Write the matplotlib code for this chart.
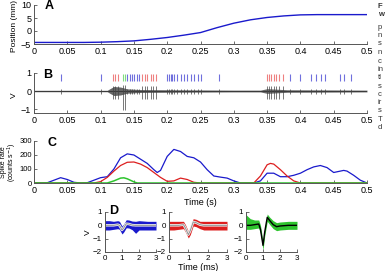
import numpy as np
import matplotlib
matplotlib.use("Agg")
import matplotlib.pyplot as plt

plt.rcParams['font.family'] = ['Liberation Sans', 'DejaVu Sans']
plt.rcParams['font.size'] = 6.5

# panel A: position
pos_t = [0, 0.025, 0.05, 0.075, 0.1, 0.125, 0.15, 0.175, 0.2, 0.225, 0.25,
         0.275, 0.3, 0.325, 0.35, 0.375, 0.4, 0.425, 0.45, 0.475, 0.5]
pos_mm = [-4.4, -4.4, -4.4, -4.4, -4.3, -4.1, -3.8, -3.2, -2.5, -1.6, -0.6,
          1.3, 3.0, 4.3, 5.2, 5.8, 6.2, 6.3, 6.3, 6.3, 6.3]

# panel B: spike times per unit
blue_spikes = [0.041, 0.101, 0.140, 0.144, 0.1475, 0.150, 0.154, 0.1575,
               0.200, 0.2025, 0.205, 0.2075, 0.210, 0.215, 0.220, 0.225,
               0.230, 0.235, 0.240, 0.246, 0.250, 0.2775, 0.385, 0.400,
               0.416, 0.424, 0.4315, 0.4375, 0.459, 0.465, 0.476]
red_spikes = [0.119, 0.1215, 0.126, 0.1625, 0.166, 0.170, 0.175, 0.179, 0.183,
              0.350, 0.3525, 0.356, 0.360, 0.364, 0.3675, 0.374]
green_spikes = [0.133, 0.136]

# background noise envelope of the voltage trace
noise_t = [0, 0.11, 0.115, 0.12, 0.13, 0.14, 0.16, 0.2, 0.25, 0.3, 0.34,
           0.35, 0.365, 0.38, 0.45, 0.5]
noise_amp = [0.04, 0.04, 0.15, 0.25, 0.22, 0.12, 0.08, 0.07, 0.06, 0.05, 0.05,
             0.13, 0.1, 0.07, 0.06, 0.05]

# panel C: spike rates
blue_rate_t = [0, 0.02, 0.03, 0.04, 0.05, 0.06, 0.07, 0.08, 0.09, 0.1, 0.11,
               0.12, 0.13, 0.14, 0.15, 0.16, 0.17, 0.18, 0.185, 0.19, 0.2,
               0.21, 0.22, 0.23, 0.24, 0.25, 0.26, 0.27, 0.28, 0.29, 0.3,
               0.31, 0.33, 0.34, 0.35, 0.36, 0.37, 0.38, 0.39, 0.4, 0.41,
               0.42, 0.43, 0.44, 0.45, 0.46, 0.465, 0.47, 0.48, 0.49, 0.5]
blue_rate = [0, 2, 20, 38, 25, 5, 0, 2, 20, 38, 45,
             100, 180, 208, 200, 170, 140, 95, 75, 90, 190,
             240, 225, 190, 180, 150, 95, 50, 42, 35, 15,
             0, 0, 15, 70, 70, 45, 45, 55, 70, 95,
             115, 125, 110, 75, 85, 90, 85, 55, 20, 0]
red_rate_t = [0, 0.09, 0.1, 0.11, 0.12, 0.13, 0.14, 0.15, 0.16, 0.17, 0.18,
              0.19, 0.2, 0.21, 0.22, 0.23, 0.24, 0.25, 0.33, 0.34, 0.35,
              0.355, 0.36, 0.37, 0.38, 0.39, 0.4, 0.5]
red_rate = [0, 0, 10, 40, 85, 125, 148, 150, 135, 110, 75,
            40, 12, 15, 35, 25, 5, 0, 0, 50, 130,
            140, 135, 95, 50, 15, 0, 0]
green_rate_t = [0, 0.11, 0.12, 0.13, 0.135, 0.14, 0.15, 0.155, 0.5]
green_rate = [0, 0, 15, 35, 37, 30, 8, 0, 0]

# panel D: waveforms (mean and spread)
wf_t = [0, 0.25, 0.5, 0.75, 0.85, 1.0, 1.1, 1.25, 1.4, 1.6, 1.8, 2.0, 2.5, 3.0]
blue_mean = [0, 0, 0, 0.05, 0, -0.35, -0.2, 0.12, 0.1, 0.02, 0, 0, 0, 0]
blue_up = [0.35, 0.35, 0.3, 0.3, 0.3, 0.3, 0.3, 0.3, 0.3, 0.3, 0.3, 0.35, 0.3, 0.3]
blue_down = [0.35, 0.35, 0.3, 0.3, 0.3, 0.3, 0.3, 0.3, 0.3, 0.35, 0.6, 0.35, 0.35, 0.35]
red_mean = [0, 0, 0, 0.05, -0.2, -0.7, -0.4, 0.25, 0.2, 0.05, 0, 0, 0, 0]
red_up = [0.3, 0.3, 0.3, 0.25, 0.25, 0.25, 0.25, 0.25, 0.25, 0.25, 0.3, 0.3, 0.3, 0.3]
red_down = [0.35, 0.35, 0.3, 0.3, 0.3, 0.25, 0.3, 0.3, 0.3, 0.3, 0.35, 0.35, 0.35, 0.35]
green_mean = [0, 0, 0.05, 0.1, -0.3, -1.5, -0.5, 0.6, 0.35, 0.05, -0.1, -0.05, 0, 0]
green_up = [0.8, 0.5, 0.35, 0.3, 0.3, 0.3, 0.3, 0.25, 0.25, 0.3, 0.3, 0.3, 0.3, 0.3]
green_down = [0.3, 0.3, 0.3, 0.3, 0.3, 0.35, 0.3, 0.3, 0.3, 0.3, 0.3, 0.3, 0.3, 0.3]

# size of each unit's deflection in the raw trace
unit_amp = {'blue': (-0.18, 0.1), 'red': (-0.42, 0.3), 'green': (-1.05, 0.35)}

C_BLUE, C_RED, C_GREEN = '#1a1acc', '#dd1f1f', '#2ec42e'
R_BLUE, R_RED, R_GREEN = '#7070dd', '#ee8080', '#80dd80'

W, H = 389, 271


def box(l, t, r, b):
    return [l / W, 1 - b / H, (r - l) / W, (b - t) / H]


def style(ax, size=6.5):
    for s in ['top', 'right']:
        ax.spines[s].set_visible(False)
    for s in ['left', 'bottom']:
        ax.spines[s].set_color('#555555')
        ax.spines[s].set_linewidth(0.7)
    ax.tick_params(direction='in', length=2.5, width=0.6, color='#555555',
                   labelsize=size, pad=2)


def ylab(x, y, txt, size=6):
    fig.text(x / W, 1 - y / H, txt, rotation=90, ha='center', va='center',
             fontsize=size, linespacing=0.95, multialignment='center')


fig = plt.figure(figsize=(W / 100, H / 100), dpi=100)
xt = np.arange(0, 0.51, 0.05)
xtl = ['0'] + ['%g' % v for v in xt[1:]]

# A
ax = fig.add_axes(box(34, 5, 367, 44))
style(ax)
ax.plot(pos_t, pos_mm, color=C_BLUE, lw=1)
ax.set_xlim(0, 0.5)
ax.set_ylim(-5, 10)
ax.set_yticks([-5, 0, 5, 10])
ax.set_xticks(xt)
ax.set_xticklabels(xtl)
ylab(14, 26, 'Position (mm)')
fig.text(45 / W, 1 - 9 / H, 'A', fontsize=9, fontweight='bold')

# B
ax = fig.add_axes(box(34, 73, 367, 113))
style(ax)
ax.fill_between(noise_t, [-a for a in noise_amp], noise_amp,
                color='#666666', lw=0)
ax.axhline(0, color='#333333', lw=0.6)
for name, spikes in [('blue', blue_spikes), ('red', red_spikes),
                     ('green', green_spikes)]:
    lo, hi = unit_amp[name]
    ax.vlines(spikes, lo, hi, color='#444444', lw=0.5)
ax.vlines(blue_spikes, 0.55, 0.95, color=R_BLUE, lw=0.8)
ax.vlines(red_spikes, 0.55, 0.95, color=R_RED, lw=0.8)
ax.vlines(green_spikes, 0.55, 0.95, color=R_GREEN, lw=0.8)
ax.set_xlim(0, 0.5)
ax.set_ylim(-1.22, 1.0)
ax.set_yticks([-1, 0, 1])
ax.set_xticks(xt)
ax.set_xticklabels(xtl)
ylab(14, 95, 'V')
fig.text(43 / W, 1 - 78 / H, 'B', fontsize=9, fontweight='bold')

# C
ax = fig.add_axes(box(34, 141, 367, 183))
style(ax)
ax.plot(blue_rate_t, blue_rate, color=C_BLUE, lw=0.9)
ax.plot(red_rate_t, red_rate, color=C_RED, lw=0.9)
ax.plot(green_rate_t, green_rate, color=C_GREEN, lw=1.1)
ax.set_xlim(0, 0.5)
ax.set_ylim(0, 300)
ax.set_yticks([0, 100, 200, 300])
ax.tick_params(axis='y', labelsize=5.5, pad=1.2)
ax.set_xticks(xt)
ax.set_xticklabels(xtl)
ax.set_xlabel('Time (s)', labelpad=2)
ylab(9.5, 162, 'Spike rate\n(counts s$^{-1}$)', size=5.0)
fig.text(48 / W, 1 - 146 / H, 'C', fontsize=9, fontweight='bold')

# D
units = [(box(105, 212, 156, 252), blue_mean, blue_up, blue_down, C_BLUE, 'light'),
         (box(169, 212, 227, 252), red_mean, red_up, red_down, C_RED, 'light'),
         (box(246, 212, 297, 252), green_mean, green_up, green_down, C_GREEN, 'dark')]
for i, (pos, mean, up, down, col, mstyle) in enumerate(units):
    ax = fig.add_axes(pos)
    style(ax, size=5.8)
    upper = [m + u for m, u in zip(mean, up)]
    lower = [m - d for m, d in zip(mean, down)]
    ax.fill_between(wf_t, lower, upper, color=col, lw=0)
    if mstyle == 'light':
        ax.plot(wf_t, mean, color='#eeeeee', lw=1.8)
        ax.plot(wf_t, mean, color='#888888', lw=0.6)
    else:
        ax.plot(wf_t, mean, color='black', lw=1.0)
    ax.set_xlim(0, 3)
    ax.set_ylim(-2, 1)
    ax.set_xticks([0, 1, 2, 3])
    ax.set_yticks([-2, -1, 0, 1])
    if i == 1:
        ax.set_xlabel('Time (ms)', labelpad=1)
ylab(88, 232, 'V')
fig.text(109 / W, 1 - 214 / H, 'D', fontsize=9, fontweight='bold')

# cut-off caption text on the right edge
caption = ['F', 'w', 'p', 'n', 's', 'n', 'c', 'in', 'tl', 's', 'c', 'ir',
           's', 'T', 'd']
caption_y = [2, 10, 23, 31, 39, 48, 57, 65, 73, 82, 90, 98, 106, 115, 123]
for k, (txt, yy) in enumerate(zip(caption, caption_y)):
    fig.text(378 / W, 1 - (yy + 6) / H, txt, fontsize=5.5, color='#333333',
             fontweight='bold' if k < 2 else 'normal')

fig.savefig('out.png', dpi=100)
